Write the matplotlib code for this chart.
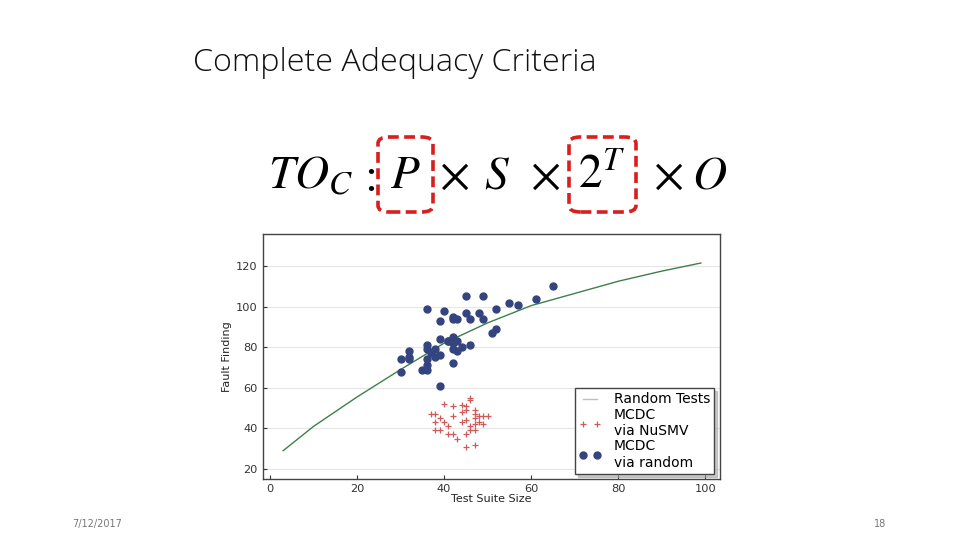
import matplotlib
matplotlib.use("Agg")
import matplotlib.pyplot as plt
from matplotlib.patches import FancyBboxPatch

# ---- data ----
line_x = [3, 10, 20, 30, 40, 50, 60, 70, 80, 90, 99]
line_y = [29, 41, 55.5, 69, 82, 92, 100.5, 106.5, 112.5, 117.5, 121.5]

nusmv_x = [46, 46, 40, 42, 44, 45, 45, 47, 37, 38, 39, 42, 44, 47, 48, 49, 50,
           38, 40, 41, 44, 45, 47, 47, 48, 49, 38, 39, 41, 42, 43, 45, 46, 46,
           47, 45, 47]
nusmv_y = [55, 54, 52, 51, 51.5, 51, 49, 49, 47, 47, 45, 46, 48, 47, 46, 46, 46,
           43, 43, 41, 43, 44, 45, 42, 43, 42, 39, 39, 37, 37, 35, 37, 41, 39,
           39, 31, 32]

rand_x = [65, 45, 49, 55, 57, 61, 36, 40, 45, 48, 52, 39, 42, 42, 43, 46, 49,
          51, 52, 39, 36, 36, 32, 30, 32, 32, 36, 37, 38, 38, 39, 41, 42, 42,
          43, 42, 43, 44, 46, 42, 36, 35, 36, 30, 39, 42, 41]
rand_y = [110, 105, 105, 102, 101, 104, 99, 98, 97, 97, 99, 93, 95, 94, 94, 94,
          94, 87, 89, 84, 81, 79, 78, 74, 75, 74, 74, 77, 79, 75, 76, 83, 85,
          82, 83, 79, 78, 80, 81, 72, 71, 69, 69, 68, 61, 83, 83]

x_ticks = [0, 20, 40, 60, 80, 100]
y_ticks = [20, 40, 60, 80, 100, 120]

fig = plt.figure(figsize=(9.6, 5.4), dpi=100)
fig.patch.set_facecolor("white")

# ---- slide texts ----
fig.text(193 / 960, 1 - 63 / 540, "Complete Adequacy Criteria",
         fontsize=23.2, family="Open Sans", fontweight="light", color="#111111",
         ha="left", va="center")
fig.text(72 / 960, 1 - 524 / 540, "7/12/2017", fontsize=7, color="#777777",
         ha="left", va="center")
fig.text(880 / 960, 1 - 524 / 540, "18", fontsize=7, color="#777777",
         ha="center", va="center")

# ---- formula ----
plt.rcParams["mathtext.fontset"] = "stix"
fy = 1 - 176 / 540
fs = 34
fig.text(268 / 960, fy, r"$TO_C$", fontsize=fs, ha="left", va="center")
fig.text(371 / 960, 1 - 180 / 540, ":", fontsize=fs, ha="center", va="center",
         family="STIXGeneral")
fig.text(405 / 960, fy, r"$P$", fontsize=fs, ha="center", va="center")
fig.text(500 / 960, fy, r"$\times\;\, S\;\, \times$", fontsize=fs, ha="center", va="center")
fig.text(602 / 960, fy, r"$2^T$", fontsize=fs, ha="center", va="center")
fig.text(690 / 960, fy, r"$\times\; O$", fontsize=fs, ha="center", va="center")

for (x0, x1) in [(378, 433), (569, 636)]:
    y0, y1 = 137, 212
    box = FancyBboxPatch((x0 / 960, 1 - y1 / 540), (x1 - x0) / 960, (y1 - y0) / 540,
                         boxstyle="round,pad=0,rounding_size=0.012",
                         transform=fig.transFigure, fill=False,
                         edgecolor="#d81e1e", linewidth=2.6, linestyle=(0, (3, 1.5)))
    fig.add_artist(box)

# ---- chart ----
ax = fig.add_axes([262.7 / 960, 1 - 479.3 / 540, (720 - 262.7) / 960, (479.3 - 234) / 540])
ax.plot(line_x, line_y, color="#3f7f4a", lw=1.0, label="Random Tests")
ax.plot(nusmv_x, nusmv_y, linestyle="none", marker="+", color="#d05a5a",
        markersize=5, mew=0.9, label="MCDC\nvia NuSMV")
ax.plot(rand_x, rand_y, linestyle="none", marker="o", color="#34447f",
        markersize=5, label="MCDC\nvia random")

ax.set_xlim(-1.7, 103.4)
ax.set_ylim(14.9, 135.8)
ax.set_xticks(x_ticks)
ax.set_yticks(y_ticks)
ax.grid(axis="y", color="#e6e6e6", lw=0.8)
ax.set_axisbelow(True)
ax.tick_params(direction="in", labelsize=8.2, colors="#333333", length=3)
for s in ax.spines.values():
    s.set_color("#444444")
    s.set_linewidth(1.0)
ax.set_xlabel("Test Suite Size", fontsize=8, labelpad=0, color="#222222")
ax.set_ylabel("Fault Finding", fontsize=8, labelpad=3, color="#222222")

leg = ax.legend(loc="lower right", fontsize=10, numpoints=2,
                shadow={"color": "#999999", "alpha": 0.5, "ox": 2, "oy": -2},
                fancybox=False, framealpha=1, edgecolor="#444444",
                handlelength=1.6, labelspacing=0.1, borderpad=0.3,
                handletextpad=0.9, borderaxespad=0.4)
leg.get_lines()[0].set_color("#a9cbb8")

fig.savefig("out.png", dpi=100)
